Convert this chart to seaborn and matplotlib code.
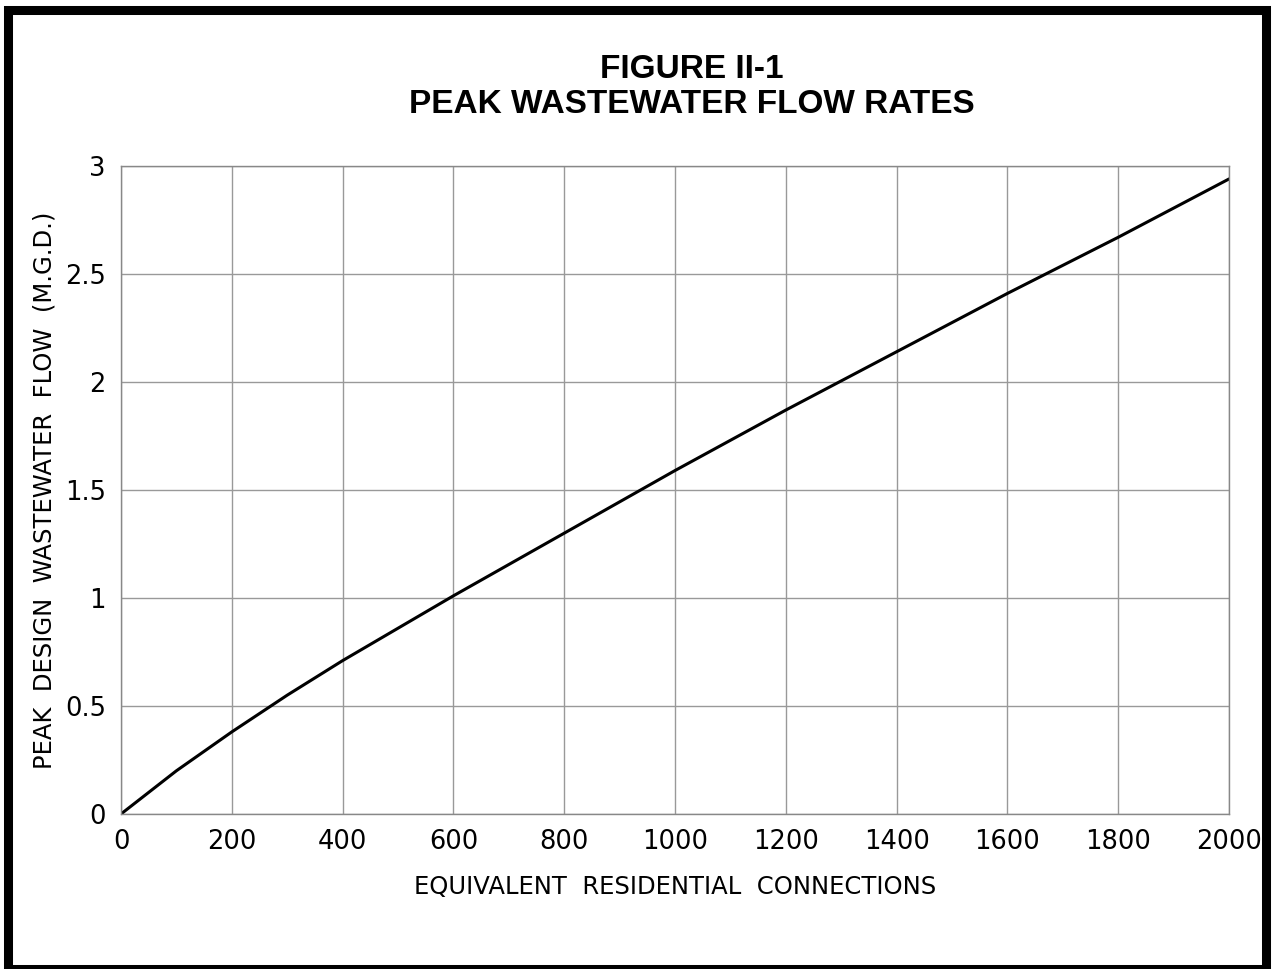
"""Recreate Figure II-1: peak wastewater flow rates."""
import matplotlib
matplotlib.use('Agg')
import matplotlib.pyplot as plt
from matplotlib.patches import Rectangle
import pandas as pd
import seaborn as sns

# values
connections = [0, 100, 200, 300, 400, 600, 800, 1000, 1200, 1400, 1600, 1800, 2000]
peak_flow = [0.0, 0.20, 0.38, 0.55, 0.71, 1.01, 1.30, 1.59, 1.87, 2.14, 2.41, 2.67, 2.94]
x_ticks = [0, 200, 400, 600, 800, 1000, 1200, 1400, 1600, 1800, 2000]
y_ticks = [0, 0.5, 1, 1.5, 2, 2.5, 3]
y_tick_labels = ['0', '0.5', '1', '1.5', '2', '2.5', '3']

sns.set_style('white')
plt.rcParams['font.family'] = ['DejaVu Sans']
plt.rcParams['text.color'] = 'black'
plt.rcParams['axes.labelcolor'] = 'black'
plt.rcParams['xtick.labelcolor'] = 'black'
plt.rcParams['ytick.labelcolor'] = 'black'

df = pd.DataFrame({'erc': connections, 'flow': peak_flow})

fig = plt.figure(figsize=(12.74, 9.69), dpi=100)
ax = fig.add_axes([0.095, 0.16, 0.8697, 0.6687])

sns.lineplot(data=df, x='erc', y='flow', color='black', linewidth=2.2, ax=ax)

ax.set_xlim(0, 2000)
ax.set_ylim(0, 3)
ax.set_xticks(x_ticks)
ax.set_yticks(y_ticks)
ax.set_yticklabels(y_tick_labels)
ax.grid(True, color='#999999', linewidth=1.0)
for s in ax.spines.values():
    s.set_color('#888888')
    s.set_linewidth(1.0)
ax.tick_params(axis='both', length=5, color='#888888', labelsize=18.5, pad=6)

ax.set_xlabel('EQUIVALENT  RESIDENTIAL  CONNECTIONS', fontsize=17.5, labelpad=14)
ax.set_ylabel('PEAK  DESIGN  WASTEWATER  FLOW  (M.G.D.)', fontsize=17.5, labelpad=6)

fig.text(0.543, 0.928, 'FIGURE II-1', ha='center', va='center',
         fontsize=24, fontweight='bold', family='Liberation Sans')
fig.text(0.543, 0.892, 'PEAK WASTEWATER FLOW RATES', ha='center', va='center',
         fontsize=24, fontweight='bold', family='Liberation Sans')

# heavy frame around the whole figure
fig.patches.append(Rectangle((0.006, 0.0), 0.988, 0.99, transform=fig.transFigure,
                             fill=False, edgecolor='black', linewidth=6.5))

fig.savefig('out.png', dpi=100)
